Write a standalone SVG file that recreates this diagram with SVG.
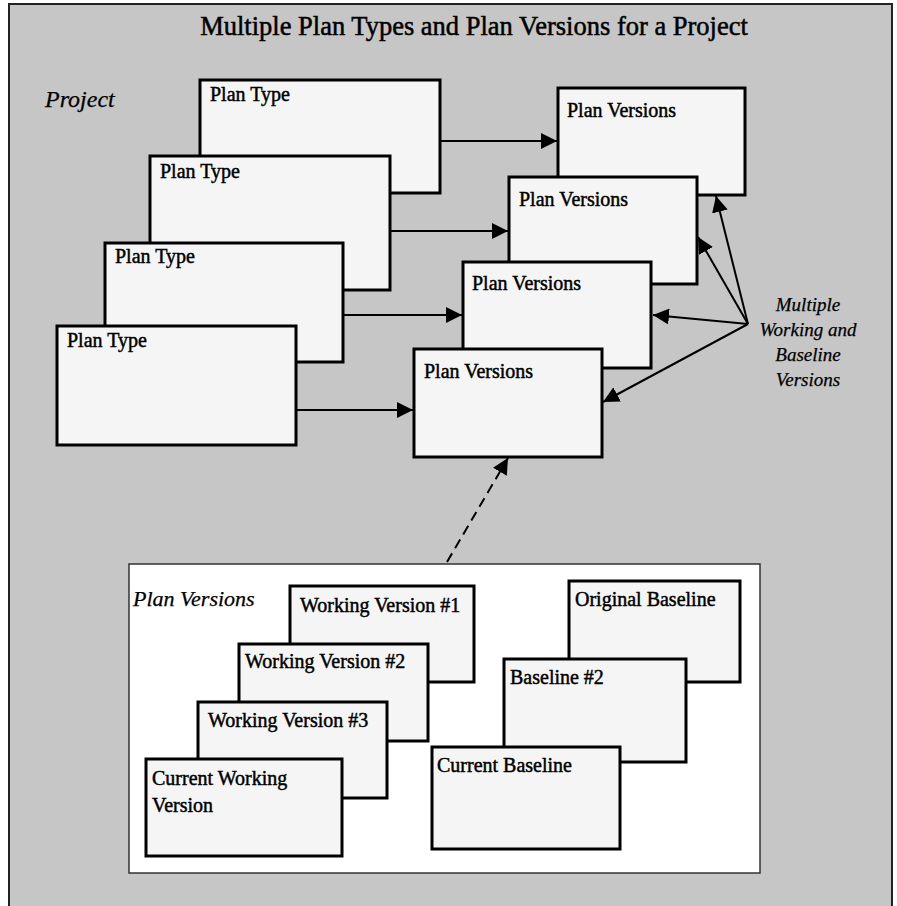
<svg xmlns="http://www.w3.org/2000/svg" width="897" height="906" viewBox="0 0 897 906">
<style>
.box{fill:#f5f5f5;stroke:#000;stroke-width:3}
.lbl{font-family:"Liberation Serif",serif;font-size:20px;fill:#000;stroke:#000;stroke-width:0.45}
.ital{font-family:"Liberation Serif",serif;font-style:italic;fill:#000;stroke:#000;stroke-width:0.25}
.conn{stroke:#000;stroke-width:2;fill:none}
</style>
<defs>
<marker id="ah" markerWidth="16" markerHeight="16" viewBox="0 0 16 16" refX="16" refY="8" orient="auto" markerUnits="userSpaceOnUse">
<path d="M0,0 L16,8 L0,16 Z" fill="#000"/>
</marker>
</defs>
<rect x="9" y="4" width="883" height="910" fill="#c6c6c6" stroke="#222" stroke-width="2"/>
<text x="474" y="35" text-anchor="middle" font-family="Liberation Serif, serif" font-size="26.5" fill="#000" stroke="#000" stroke-width="0.5">Multiple Plan Types and Plan Versions for a Project</text>
<text x="45" y="107" class="ital" font-size="24">Project</text>

<g id="plan-type-1"><rect class="box" x="200" y="80" width="240" height="113"/><text class="lbl" x="210" y="101">Plan Type</text></g>
<g id="plan-type-2"><rect class="box" x="150" y="156" width="240" height="134"/><text class="lbl" x="160" y="178">Plan Type</text></g>
<g id="plan-type-3"><rect class="box" x="105" y="243" width="238" height="119"/><text class="lbl" x="115" y="263">Plan Type</text></g>
<g id="plan-type-4"><rect class="box" x="57" y="326" width="239" height="119"/><text class="lbl" x="67" y="347">Plan Type</text></g>

<g id="plan-versions-1"><rect class="box" x="558" y="88" width="187" height="107"/><text class="lbl" x="567" y="117">Plan Versions</text></g>
<g id="plan-versions-2"><rect class="box" x="509" y="177" width="188" height="107"/><text class="lbl" x="519" y="206">Plan Versions</text></g>
<g id="plan-versions-3"><rect class="box" x="463" y="262" width="188" height="106"/><text class="lbl" x="472" y="290">Plan Versions</text></g>
<g id="plan-versions-4"><rect class="box" x="414" y="349" width="188" height="108"/><text class="lbl" x="424" y="378">Plan Versions</text></g>

<g id="multiple-label">
<text class="ital" font-size="19" text-anchor="middle" x="808" y="311">Multiple</text>
<text class="ital" font-size="19" text-anchor="middle" x="808" y="336">Working and</text>
<text class="ital" font-size="19" text-anchor="middle" x="808" y="361">Baseline</text>
<text class="ital" font-size="19" text-anchor="middle" x="808" y="386">Versions</text>
</g>

<g id="plan-versions-detail">
<rect x="129" y="564" width="631" height="309" fill="#fff" stroke="#333" stroke-width="1.5"/>
<text x="133" y="606" class="ital" font-size="22">Plan Versions</text>
</g>
<g id="working-version-1"><rect class="box" x="290" y="586" width="184" height="96"/><text class="lbl" x="300" y="612">Working Version #1</text></g>
<g id="working-version-2"><rect class="box" x="239" y="644" width="189" height="97"/><text class="lbl" x="245" y="668">Working Version #2</text></g>
<g id="working-version-3"><rect class="box" x="198" y="702" width="189" height="96"/><text class="lbl" x="208" y="727">Working Version #3</text></g>
<g id="current-working-version"><rect class="box" x="146" y="759" width="196" height="97"/><text class="lbl" x="152" y="785">Current Working</text><text class="lbl" x="152" y="812">Version</text></g>
<g id="original-baseline"><rect class="box" x="569" y="581" width="171" height="101"/><text class="lbl" x="575" y="606">Original Baseline</text></g>
<g id="baseline-2"><rect class="box" x="504" y="659" width="182" height="103"/><text class="lbl" x="510" y="684">Baseline #2</text></g>
<g id="current-baseline"><rect class="box" x="432" y="747" width="188" height="102"/><text class="lbl" x="437" y="772">Current Baseline</text></g>

<g id="connectors">
<line class="conn" x1="441" y1="141" x2="557" y2="141" marker-end="url(#ah)"/>
<line class="conn" x1="391" y1="231" x2="508" y2="231" marker-end="url(#ah)"/>
<line class="conn" x1="344" y1="315" x2="462" y2="315" marker-end="url(#ah)"/>
<line class="conn" x1="297" y1="410" x2="413" y2="410" marker-end="url(#ah)"/>
<line class="conn" x1="748" y1="324" x2="716" y2="196" marker-end="url(#ah)"/>
<line class="conn" x1="748" y1="324" x2="698" y2="237" marker-end="url(#ah)"/>
<line class="conn" x1="748" y1="324" x2="653" y2="315" marker-end="url(#ah)"/>
<line class="conn" x1="748" y1="324" x2="603" y2="402" marker-end="url(#ah)"/>
<line class="conn" x1="447" y1="562" x2="508" y2="458" stroke-dasharray="10,6" marker-end="url(#ah)"/>
</g>
</svg>
